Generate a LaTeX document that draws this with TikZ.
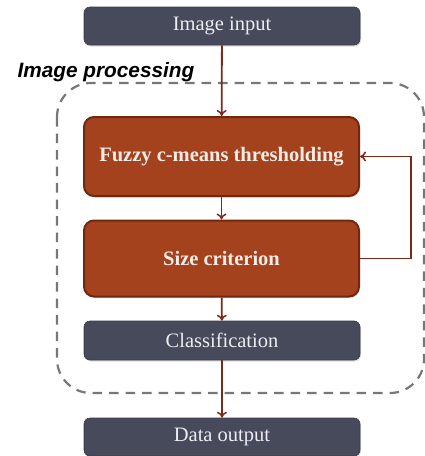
\documentclass[tikz,border=0pt]{standalone}
\usepackage{fontspec}
\setmainfont{Liberation Serif}
\newfontfamily\titlefont{Liberation Sans}
\usetikzlibrary{arrows.meta,shadows}
\definecolor{slate}{HTML}{474A5B}
\definecolor{rust}{HTML}{A3421C}
\definecolor{rustdark}{HTML}{702810}
\definecolor{arrowc}{HTML}{7A2A16}
\definecolor{dashc}{HTML}{777777}
\definecolor{lighttext}{HTML}{ECECF2}
\definecolor{rusttext}{HTML}{F6ECE6}
\tikzset{
  every picture/.style={x=1pt,y=-1pt},
  darkbox/.style={draw=slate!80!black, line width=0.6pt, fill=slate, rounded corners=6pt,
    minimum width=276pt, minimum height=38pt, inner sep=0pt,
    text=lighttext, font=\fontsize{20.5}{24}\selectfont,
    drop shadow={shadow xshift=1pt, shadow yshift=-1.5pt, opacity=0.25}},
  rustbox/.style={draw=rustdark, line width=2pt, fill=rust, rounded corners=10pt,
    minimum width=275pt, minimum height=79pt, inner sep=0pt,
    text=rusttext, font=\bfseries\fontsize{20.5}{24}\selectfont,
    drop shadow={shadow xshift=1pt, shadow yshift=-1.5pt, opacity=0.3}},
  link/.style={draw=arrowc, line width=1.8pt, -{To[length=6pt,width=10pt,line width=1.5pt]}},
}
\begin{document}
\begin{tikzpicture}
\useasboundingbox (0,0) rectangle (425,456);
% dashed region
\draw[dashc, line width=2.2pt, dash pattern=on 9.5pt off 7pt, rounded corners=34pt]
  (57,83) rectangle (424,393);
\node[anchor=base west, font=\titlefont\bfseries\itshape\fontsize{20.8}{24}\selectfont]
  (title) at (14,77.5) {Image processing};
\node[darkbox] (in) at (222,26) {Image input};
\node[rustbox] (fcm) at (221.5,156.5) {Fuzzy c-means thresholding};
\node[rustbox, minimum height=76pt] (size) at (221.5,258.5) {Size criterion};
\node[darkbox, minimum height=39pt] (cls) at (222,340.5) {Classification};
\node[darkbox] (out) at (222,437) {Data output};
\draw[link] (in) -- (fcm);
\draw[link] (fcm) -- (size);
\draw[link] (size) -- (cls);
\draw[link] (cls) -- (out);
\coordinate (fb) at (411,0);
\draw[link] (size.east) -- (size.east -| fb) -- (fcm.east -| fb) -- (fcm.east);
\end{tikzpicture}
\end{document}
